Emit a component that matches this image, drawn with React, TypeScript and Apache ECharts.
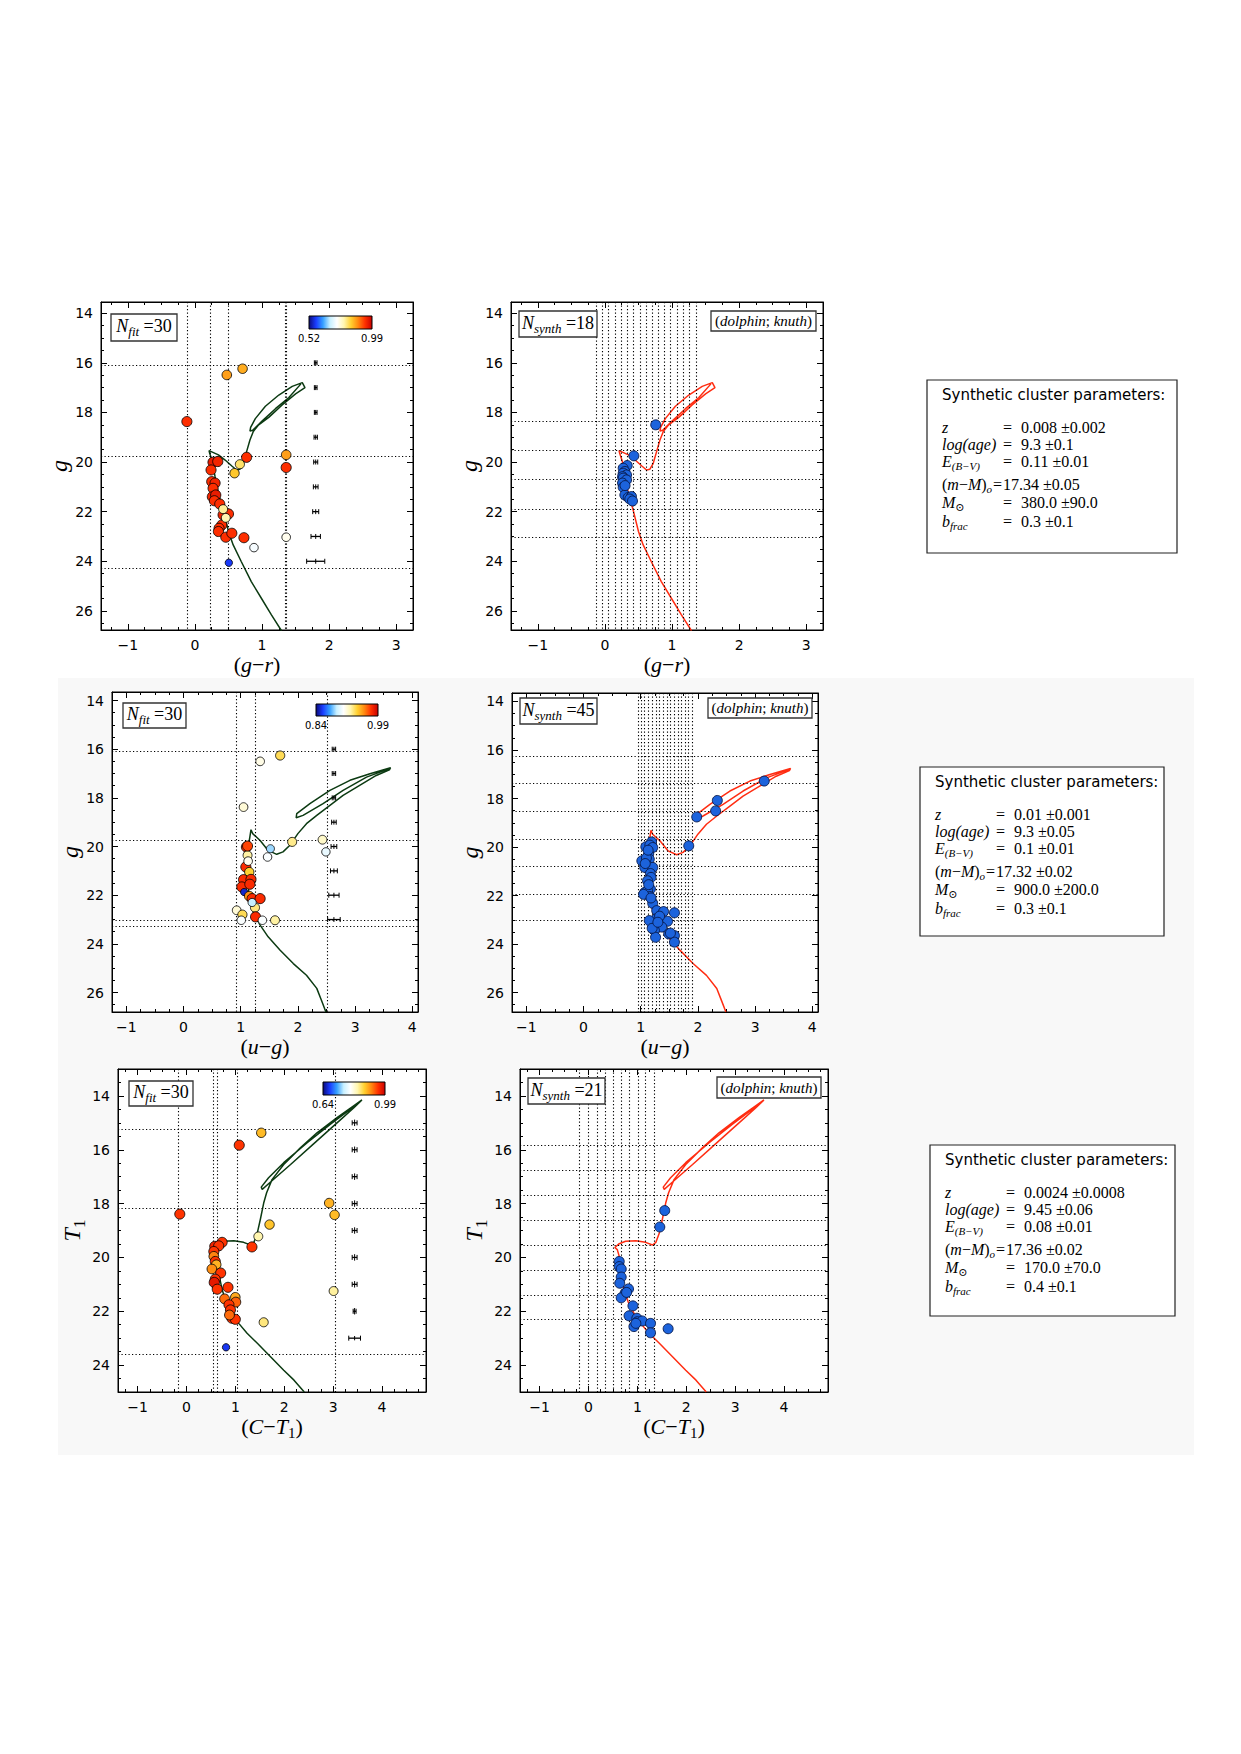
import React, { useEffect, useRef } from 'react';
import * as echarts from 'echarts';

const SANS = '"DejaVu Sans", sans-serif';
const SERIF = '"Liberation Serif", "DejaVu Serif", serif';

// colour scale for membership probabilities (low -> high)
const probColors = ['#0b0b7a', '#1a3cff', '#35a0ff', '#c8f0ff', '#ffffff', '#fff6b0', '#ffd030', '#ff8a10', '#ff3000', '#c80000'];

// ---------------- row 1 : g vs (g-r) ----------------
const isoGR = [
  [1.29, 26.8], [1.14, 26.16], [0.99, 25.49], [0.84, 24.82], [0.69, 24.01], [0.57, 23.34], [0.5, 22.8],
  [0.42, 21.93], [0.35, 21.26], [0.3, 20.59], [0.26, 19.98], [0.22, 19.65], [0.21, 19.54], [0.35, 19.71],
  [0.45, 19.92], [0.55, 20.16], [0.62, 20.32], [0.67, 20.29], [0.72, 20.05], [0.77, 19.58], [0.82, 19.11],
  [0.87, 18.77], [0.95, 18.5], [1.1, 18.2], [1.3, 17.7], [1.5, 17.25], [1.64, 17.0], [1.6, 16.8],
  [1.45, 16.95], [1.25, 17.3], [1.05, 17.75], [0.9, 18.25], [0.83, 18.6], [0.82, 18.75], [0.86, 18.72],
  [1.0, 18.35], [1.2, 17.85], [1.4, 17.4], [1.58, 16.85],
];
// [colour, magnitude, membership probability]
const fitGR = [
  [-0.12, 18.37, 0.94], [0.475, 16.49, 0.87], [0.71, 16.24, 0.86], [0.77, 19.81, 0.94], [1.36, 19.71, 0.87],
  [1.36, 20.22, 0.94], [0.67, 20.09, 0.81], [0.59, 20.45, 0.84], [0.27, 20.01, 0.96], [0.34, 19.98, 0.95],
  [0.24, 20.32, 0.94], [0.25, 20.79, 0.94], [0.3, 20.85, 0.95], [0.27, 21.06, 0.94], [0.26, 21.4, 0.95],
  [0.31, 21.33, 0.96], [0.29, 21.56, 0.94], [0.37, 21.69, 0.94], [0.42, 22.13, 0.95], [0.5, 22.09, 0.94],
  [0.4, 22.54, 0.94], [0.36, 22.67, 0.94], [0.35, 22.8, 0.94], [0.46, 23.03, 0.94], [0.55, 22.87, 0.94],
  [0.73, 23.05, 0.94], [0.505, 24.06, 0.57], [0.88, 23.45, 0.72], [1.36, 23.03, 0.74], [0.42, 21.9, 0.79],
  [0.46, 22.25, 0.78],
];
// [colour, magnitude, colour error, magnitude error]
const errGR = [
  [1.8, 16, 0.02, 0.1], [1.8, 17, 0.02, 0.1], [1.8, 18, 0.02, 0.1], [1.8, 19, 0.025, 0.1],
  [1.8, 20, 0.03, 0.1], [1.8, 21, 0.035, 0.1], [1.8, 22, 0.045, 0.1], [1.8, 23, 0.07, 0.1],
  [1.8, 24, 0.135, 0.1],
];
const fitGRVLines = [-0.12, 0.23, 0.5, 1.355, 1.365];
const fitGRHLines = [16.1, 19.75, 24.3];
const synGR = [
  [0.757, 18.5], [0.431, 19.75], [0.332, 20.14], [0.272, 20.25], [0.297, 20.38], [0.272, 20.45],
  [0.322, 20.52], [0.262, 20.59], [0.272, 20.65], [0.322, 20.72], [0.262, 20.85], [0.272, 21.02],
  [0.297, 21.33], [0.347, 21.43], [0.396, 21.39], [0.371, 21.49], [0.411, 21.57], [0.3, 20.95],
];
const synGRVLines = [-0.13, -0.04, 0.05, 0.15, 0.24, 0.33, 0.42, 0.52, 0.61, 0.7, 0.8, 0.89, 0.98, 1.08, 1.17, 1.26, 1.36];
const synGRHLines = [18.34, 19.54, 20.69, 21.89, 23.05];
const probRangeGR = [0.52, 0.99];
const paramsGR = ['0.008 \u00b10.002', '9.3 \u00b10.1', '0.11 \u00b10.01', '17.34 \u00b10.05', '380.0 \u00b190.0', '0.3 \u00b10.1'];
const nSynthGR = 18;

// ---------------- row 2 : g vs (u-g) ----------------
const isoUG = [
  [2.49, 26.8], [2.41, 26.31], [2.33, 25.83], [2.15, 25.29], [1.92, 24.81], [1.69, 24.26], [1.48, 23.71],
  [1.34, 23.23], [1.23, 22.76], [1.16, 22.21], [1.13, 21.66], [1.1, 21.11], [1.1, 20.57], [1.13, 20.02],
  [1.16, 19.61], [1.18, 19.31], [1.21, 19.47], [1.34, 19.75], [1.48, 20.16], [1.63, 20.32], [1.74, 20.22],
  [1.86, 19.95], [2.0, 19.47], [2.15, 19.06], [2.33, 18.72], [2.56, 18.31], [2.79, 17.9], [3.08, 17.49],
  [3.37, 17.08], [3.6, 16.85], [3.62, 16.76], [3.26, 17.01], [2.91, 17.28], [2.56, 17.69], [2.21, 18.24],
  [1.98, 18.65], [1.97, 18.82], [2.09, 18.72], [2.44, 18.24], [2.79, 17.69], [3.2, 17.15], [3.6, 16.8],
];
const fitUG = [
  [1.69, 16.26, 0.935], [1.34, 16.5, 0.912], [1.05, 18.38, 0.915], [1.9, 19.81, 0.928], [2.43, 19.72, 0.918],
  [2.49, 20.22, 0.9], [1.52, 20.09, 0.885], [1.47, 20.43, 0.905], [1.1, 20.02, 0.975], [1.12, 20.36, 0.925],
  [1.09, 20.84, 0.975], [1.15, 21.05, 0.94], [1.05, 21.36, 0.975], [1.18, 21.35, 0.975], [1.02, 21.66, 0.975],
  [1.16, 21.55, 0.975], [1.06, 21.87, 0.85], [1.15, 22.04, 0.955], [1.2, 22.14, 0.975], [1.34, 22.14, 0.975],
  [1.25, 22.51, 0.93], [1.26, 22.89, 0.975], [0.93, 22.62, 0.915], [1.03, 22.8, 0.935], [1.01, 23.03, 0.905],
  [1.38, 23.03, 0.905], [1.6, 23.03, 0.925], [1.13, 20.6, 0.91], [1.2, 22.3, 0.89], [1.12, 19.98, 0.97],
];
const errUG = [
  [2.63, 16, 0.03, 0.1], [2.63, 17, 0.03, 0.1], [2.63, 18, 0.03, 0.1], [2.63, 19, 0.04, 0.1],
  [2.63, 20, 0.05, 0.1], [2.63, 21, 0.06, 0.1], [2.63, 22, 0.09, 0.1], [2.63, 23, 0.11, 0.1],
];
const fitUGVLines = [0.93, 1.26, 2.51];
const fitUGHLines = [16.08, 19.75, 23.03, 23.27];
const synUG = [
  [3.16, 17.28], [2.34, 18.08], [2.31, 18.51], [1.98, 18.76], [1.84, 19.95],
  [1.19, 19.79], [1.09, 19.99], [1.16, 19.92], [1.21, 20.02], [1.14, 20.29], [1.15, 20.5], [1.02, 20.57],
  [1.12, 20.77], [1.07, 20.84], [1.21, 20.84], [1.17, 21.09], [1.18, 21.25], [1.12, 21.39], [1.17, 21.73],
  [1.07, 21.87], [1.12, 21.8], [1.16, 22.04], [1.21, 22.32], [1.28, 22.62], [1.4, 22.66], [1.59, 22.71],
  [1.27, 22.96], [1.15, 23.03], [1.47, 23.06], [1.37, 23.3], [1.24, 23.44], [1.49, 23.58], [1.59, 23.65],
  [1.26, 23.72], [1.59, 23.92], [1.1, 20.45], [1.14, 21.55], [1.05, 21.95], [1.18, 22.1], [1.33, 22.85],
  [1.52, 23.55], [1.2, 23.35], [1.3, 23.1], [1.13, 20.13], [1.08, 20.68],
];
const synUGVLines = [0.95, 1.01, 1.07, 1.14, 1.2, 1.27, 1.33, 1.39, 1.46, 1.52, 1.59, 1.65, 1.71, 1.78, 1.84, 1.91];
const synUGHLines = [16.26, 17.38, 18.51, 19.66, 20.79, 21.93, 23.03];
const probRangeUG = [0.84, 0.99];
const paramsUG = ['0.01 \u00b10.001', '9.3 \u00b10.05', '0.1 \u00b10.01', '17.32 \u00b10.02', '900.0 \u00b1200.0', '0.3 \u00b10.1'];
const nSynthUG = 45;

// ---------------- row 3 : T1 vs (C-T1) ----------------
const isoCT = [
  [2.41, 25.0], [2.2, 24.56], [1.99, 24.19], [1.72, 23.69], [1.45, 23.19], [1.24, 22.82], [1.07, 22.45],
  [0.93, 22.07], [0.81, 21.64], [0.73, 21.2], [0.68, 20.77], [0.65, 20.34], [0.63, 19.96], [0.59, 19.71],
  [0.54, 19.63], [0.63, 19.49], [0.76, 19.4], [0.97, 19.38], [1.17, 19.44], [1.31, 19.54], [1.38, 19.44],
  [1.45, 19.09], [1.51, 18.6], [1.58, 17.98], [1.64, 17.6], [1.75, 17.11], [1.99, 16.55], [2.33, 15.93],
  [2.67, 15.37], [3.08, 14.81], [3.42, 14.37], [3.59, 14.15], [3.35, 14.5], [2.94, 15.06], [2.47, 15.74],
  [1.99, 16.48], [1.68, 17.04], [1.53, 17.39], [1.55, 17.47], [1.72, 17.2], [2.13, 16.55], [2.6, 15.78],
  [3.08, 15.0], [3.42, 14.45], [3.59, 14.15],
];
const fitCT = [
  [1.08, 15.83, 0.95], [1.53, 15.37, 0.885], [-0.136, 18.39, 0.95], [2.92, 17.98, 0.89], [3.03, 18.42, 0.885],
  [1.7, 18.78, 0.88], [1.47, 19.22, 0.835], [1.34, 19.61, 0.95], [3.01, 21.25, 0.84], [1.58, 22.41, 0.85],
  [0.81, 23.34, 0.675], [0.73, 19.44, 0.95], [0.58, 19.59, 0.96], [0.66, 19.57, 0.95], [0.56, 19.78, 0.95],
  [0.56, 19.96, 0.915], [0.59, 20.15, 0.95], [0.61, 20.27, 0.89], [0.52, 20.43, 0.91], [0.7, 20.58, 0.95],
  [0.59, 20.81, 0.95], [0.57, 20.93, 0.97], [0.63, 21.18, 0.95], [0.85, 21.11, 0.95], [0.78, 21.54, 0.925],
  [1.0, 21.48, 0.895], [1.01, 21.66, 0.93], [0.87, 21.76, 0.95], [0.9, 21.95, 0.95], [0.93, 22.26, 0.95],
  [1.0, 22.3, 0.95], [0.88, 22.14, 0.925],
];
const errCT = [
  [3.44, 15, 0.05, 0.12], [3.44, 16, 0.05, 0.12], [3.44, 17, 0.05, 0.12], [3.44, 18, 0.05, 0.12],
  [3.44, 19, 0.05, 0.12], [3.44, 20, 0.05, 0.12], [3.44, 21, 0.05, 0.12], [3.44, 22, 0.03, 0.12],
  [3.44, 23, 0.12, 0.08],
];
const fitCTVLines = [-0.157, 0.545, 0.627, 1.036, 3.05];
const fitCTHLines = [15.22, 18.17, 23.59];
const synCT = [
  [1.56, 18.26], [1.46, 18.87], [1.63, 22.65], [0.63, 20.15], [0.63, 20.34], [0.67, 20.43], [0.67, 20.73],
  [0.64, 20.96], [0.82, 21.17], [0.75, 21.33], [0.67, 21.5], [0.91, 21.8], [0.83, 22.17], [0.99, 22.26],
  [1.0, 22.39], [1.1, 22.36], [1.27, 22.45], [0.93, 22.57], [1.27, 22.8], [0.97, 22.45], [0.78, 21.3],
];
const synCTVLines = [-0.18, 0, 0.17, 0.34, 0.5, 0.67, 0.84, 1.01, 1.17, 1.34];
const synCTHLines = [15.84, 16.76, 17.68, 18.62, 19.53, 20.46, 21.39, 22.3];
const probRangeCT = [0.64, 0.99];
const paramsCT = ['0.0024 \u00b10.0008', '9.45 \u00b10.06', '0.08 \u00b10.01', '17.36 \u00b10.02', '170.0 \u00b170.0', '0.4 \u00b10.1'];
const nSynthCT = 21;

const nFit = 30;

// ---------------- text helpers ----------------
// main glyphs are top-aligned in a short line box, subscripts bottom-aligned,
// which drops the subscript just below the baseline
const mathRich = (size: number) => {
  const lh = Math.round(size * 1.15);
  const sub = Math.round(size * 0.7);
  return {
    i: { fontFamily: SERIF, fontStyle: 'italic', fontSize: size, lineHeight: lh, verticalAlign: 'top', fill: '#000', color: '#000' },
    r: { fontFamily: SERIF, fontSize: size, lineHeight: lh, verticalAlign: 'top', fill: '#000', color: '#000' },
    s: { fontFamily: SERIF, fontStyle: 'italic', fontSize: sub, lineHeight: sub, verticalAlign: 'bottom', fill: '#000', color: '#000' },
    sr: { fontFamily: SERIF, fontSize: sub, lineHeight: sub, verticalAlign: 'bottom', fill: '#000', color: '#000' },
  };
};

const nameGR = '{r|(}{i|g}{r|\u2212}{i|r}{r|)}';
const nameUG = '{r|(}{i|u}{r|\u2212}{i|g}{r|)}';
const nameCT = '{r|(}{i|C}{r|\u2212}{i|T}{sr|1}{r|)}';
const nameG = '{i|g}';
const nameT1 = '{i|T}{sr|1}';

const fmtTick = (step: number) => (v: number) => {
  const r = Math.round(v);
  if (Math.abs(v - r) > 1e-6 || r % step !== 0) return '';
  return r < 0 ? '\u2212' + Math.abs(r) : String(r);
};

type Panel = {
  box: { left: number; top: number; width: number; height: number };
  xr: number[]; yr: number[]; xName: string; yName: string; yGap: number;
  fit: boolean; iso: number[][]; pts: number[][]; err?: number[][];
  vLines: number[]; hLines: number[]; prob?: number[];
};

const panels: Panel[] = [
  { box: { left: 101, top: 302, width: 312, height: 328 }, xr: [-1.4, 3.25], yr: [13.55, 26.77], xName: nameGR, yName: nameG, yGap: 19,
    fit: true, iso: isoGR, pts: fitGR, err: errGR, vLines: fitGRVLines, hLines: fitGRHLines, prob: probRangeGR },
  { box: { left: 511, top: 302, width: 312, height: 328 }, xr: [-1.4, 3.25], yr: [13.55, 26.77], xName: nameGR, yName: nameG, yGap: 17,
    fit: false, iso: isoGR, pts: synGR, vLines: synGRVLines, hLines: synGRHLines },
  { box: { left: 112, top: 692, width: 306, height: 320 }, xr: [-1.25, 4.1], yr: [13.65, 26.8], xName: nameUG, yName: nameG, yGap: 19,
    fit: true, iso: isoUG, pts: fitUG, err: errUG, vLines: fitUGVLines, hLines: fitUGHLines, prob: probRangeUG },
  { box: { left: 512, top: 693, width: 306, height: 319 }, xr: [-1.25, 4.1], yr: [13.65, 26.8], xName: nameUG, yName: nameG, yGap: 16,
    fit: false, iso: isoUG, pts: synUG, vLines: synUGVLines, hLines: synUGHLines },
  { box: { left: 118, top: 1069, width: 308, height: 323 }, xr: [-1.4, 4.9], yr: [13, 25], xName: nameCT, yName: nameT1, yGap: 22,
    fit: true, iso: isoCT, pts: fitCT, err: errCT, vLines: fitCTVLines, hLines: fitCTHLines, prob: probRangeCT },
  { box: { left: 520, top: 1069, width: 308, height: 323 }, xr: [-1.4, 4.9], yr: [13, 25], xName: nameCT, yName: nameT1, yGap: 19,
    fit: false, iso: isoCT, pts: synCT, vLines: synCTVLines, hLines: synCTHLines },
];

// in-plot labels
const fitBoxes = [
  { x: 111, y: 314, w: 66, h: 27 }, { x: 123, y: 703, w: 63, h: 25 }, { x: 129, y: 1081, w: 64, h: 25 },
];
const synBoxes = [
  { x: 519, y: 311, w: 78, h: 26, n: nSynthGR }, { x: 520, y: 698, w: 77, h: 26, n: nSynthUG }, { x: 528, y: 1078, w: 77, h: 26, n: nSynthCT },
];
const methodBoxes = [
  { x: 711, y: 311, w: 105, h: 20 }, { x: 708, y: 698, w: 104, h: 20 }, { x: 717, y: 1077, w: 104, h: 21 },
];
const colorBars = [
  { x: 309, y: 316, w: 63, h: 13, labY: 338, range: probRangeGR },
  { x: 316, y: 704, w: 62, h: 12, labY: 725, range: probRangeUG },
  { x: 323, y: 1082, w: 62, h: 13, labY: 1104, range: probRangeCT },
];
const paramBoxes = [
  { x: 927, y: 380, w: 250, h: 173, vals: paramsGR },
  { x: 920, y: 767, w: 244, h: 169, vals: paramsUG },
  { x: 930, y: 1145, w: 245, h: 171, vals: paramsCT },
];
const paramNames = [
  '{i|z}',
  '{i|log(age)}',
  '{i|E}{s|(B\u2212V)}',
  '{r|(}{i|m}{r|\u2212}{i|M}{r|)}{s|o}',
  '{i|M}{sr|\u2299}',
  '{i|b}{s|frac}',
];
const paramRowOffsets = [48, 65, 82, 105, 123, 142];

function errorBarItem(params: any, api: any) {
  const x = api.value(0), y = api.value(1), ex = api.value(2), ey = api.value(3);
  const c = api.coord([x, y]);
  const l = api.coord([x - ex, y]);
  const r = api.coord([x + ex, y]);
  const t = api.coord([x, y - ey]);
  const b = api.coord([x, y + ey]);
  const cap = 2.5;
  const st = { stroke: '#000', lineWidth: 1 };
  return {
    type: 'group',
    children: [
      { type: 'line', shape: { x1: l[0], y1: c[1], x2: r[0], y2: c[1] }, style: { ...st, lineWidth: 1.3 } },
      { type: 'line', shape: { x1: c[0], y1: t[1], x2: c[0], y2: b[1] }, style: st },
      { type: 'line', shape: { x1: l[0], y1: c[1] - cap, x2: l[0], y2: c[1] + cap }, style: st },
      { type: 'line', shape: { x1: r[0], y1: c[1] - cap, x2: r[0], y2: c[1] + cap }, style: st },
    ],
  };
}

function buildOption() {
  const grid: any[] = [];
  const xAxis: any[] = [];
  const yAxis: any[] = [];
  const series: any[] = [];
  const visualMap: any[] = [];
  const graphic: any[] = [];
  const axisLineStyle = { color: '#000', width: 1 };

  panels.forEach((p, i) => {
    grid.push({ ...p.box, show: true, backgroundColor: '#fff', borderColor: '#000', borderWidth: 1 });
    const xi = xAxis.length;
    ['bottom', 'top'].forEach((pos) => {
      xAxis.push({
        type: 'value', gridIndex: i, position: pos, min: p.xr[0], max: p.xr[1], splitNumber: 5,
        axisLine: { show: true, onZero: false, lineStyle: axisLineStyle },
        axisTick: { show: true, inside: true, length: 6, lineStyle: axisLineStyle },
        minorTick: { show: true, splitNumber: 4, length: 3, lineStyle: axisLineStyle },
        splitLine: { show: false },
        axisLabel: pos === 'bottom'
          ? { show: true, margin: 8, color: '#000', fontFamily: SANS, fontSize: 14, formatter: fmtTick(1) }
          : { show: false },
        name: pos === 'bottom' ? p.xName : '',
        nameLocation: 'middle', nameGap: 23,
        nameTextStyle: { rich: mathRich(22) },
      });
    });
    const yi = yAxis.length;
    ['left', 'right'].forEach((pos) => {
      yAxis.push({
        type: 'value', gridIndex: i, position: pos, inverse: true, min: p.yr[0], max: p.yr[1], splitNumber: 6,
        axisLine: { show: true, onZero: false, lineStyle: axisLineStyle },
        axisTick: { show: true, inside: true, length: 6, lineStyle: axisLineStyle },
        minorTick: { show: true, splitNumber: 4, length: 3, lineStyle: axisLineStyle },
        splitLine: { show: false },
        axisLabel: pos === 'left'
          ? { show: true, margin: 8, color: '#000', fontFamily: SANS, fontSize: 14, formatter: fmtTick(2) }
          : { show: false },
        name: pos === 'left' ? p.yName : '',
        nameLocation: 'middle', nameGap: p.yGap,
        nameTextStyle: { rich: mathRich(24) },
      });
    });

    series.push({
      type: 'line', xAxisIndex: xi, yAxisIndex: yi, data: p.iso, showSymbol: false, symbol: 'none',
      clip: true, silent: true, z: 2,
      lineStyle: { color: p.fit ? '#0c3a12' : '#ff2d12', width: 1.5 },
      markLine: {
        silent: true, symbol: ['none', 'none'], label: { show: false }, animation: false,
        lineStyle: { color: '#000', width: 1.1, type: [1.2, 2.3] },
        emphasis: { disabled: true },
        data: [...p.vLines.map((v) => ({ xAxis: v })), ...p.hLines.map((h) => ({ yAxis: h }))],
      },
    });

    if (p.err) {
      series.push({
        type: 'custom', xAxisIndex: xi, yAxisIndex: yi, data: p.err, renderItem: errorBarItem,
        encode: { x: 0, y: 1 }, silent: true, z: 3,
      });
    }

    const si = series.length;
    if (p.fit && p.prob) {
      const [lo, hi] = p.prob;
      series.push({
        type: 'scatter', xAxisIndex: xi, yAxisIndex: yi, data: p.pts, z: 5, silent: true,
        symbolSize: (v: number[]) => 7 + 3.5 * Math.max(0, Math.min(1, (v[2] - lo) / (hi - lo))),
        itemStyle: { borderColor: '#000', borderWidth: 0.8, opacity: 1 },
      });
      visualMap.push({
        type: 'continuous', show: false, seriesIndex: si, dimension: 2, min: lo, max: hi,
        inRange: { color: probColors },
      });
    } else {
      series.push({
        type: 'scatter', xAxisIndex: xi, yAxisIndex: yi, data: p.pts, z: 5, silent: true, symbolSize: 10,
        itemStyle: { color: '#1c63dc', borderColor: '#07184a', borderWidth: 0.9, opacity: 1 },
      });
    }
  });

  // N_fit labels
  fitBoxes.forEach((b) => {
    graphic.push({ type: 'rect', shape: { x: b.x, y: b.y, width: b.w, height: b.h }, style: { fill: '#fff', stroke: '#333', lineWidth: 1.3 }, z: 10 });
    graphic.push({
      type: 'text', x: b.x + b.w / 2, y: b.y + b.h / 2, z: 11,
      style: { text: `{i|N}{s|fit}{r| =${nFit}}`, rich: mathRich(18), align: 'center', verticalAlign: 'middle' },
    });
  });
  // N_synth labels
  synBoxes.forEach((b) => {
    graphic.push({ type: 'rect', shape: { x: b.x, y: b.y, width: b.w, height: b.h }, style: { fill: '#fff', stroke: '#333', lineWidth: 1.3 }, z: 10 });
    graphic.push({
      type: 'text', x: b.x + b.w / 2, y: b.y + b.h / 2, z: 11,
      style: { text: `{i|N}{s|synth}{r| =${b.n}}`, rich: mathRich(18), align: 'center', verticalAlign: 'middle' },
    });
  });
  // binning method labels
  methodBoxes.forEach((b) => {
    graphic.push({ type: 'rect', shape: { x: b.x, y: b.y, width: b.w, height: b.h }, style: { fill: '#fff', stroke: '#333', lineWidth: 1.3 }, z: 10 });
    graphic.push({
      type: 'text', x: b.x + b.w / 2, y: b.y + b.h / 2 + 1, z: 11,
      style: { text: '{r|(}{i|dolphin}{r|; }{i|knuth}{r|)}', rich: mathRich(15), align: 'center', verticalAlign: 'middle' },
    });
  });
  // colour bars
  colorBars.forEach((c) => {
    graphic.push({
      type: 'rect', shape: { x: c.x, y: c.y, width: c.w, height: c.h }, z: 10,
      style: {
        fill: {
          type: 'linear', x: 0, y: 0, x2: 1, y2: 0,
          colorStops: probColors.map((col, k) => ({ offset: k / (probColors.length - 1), color: col })),
        },
        stroke: '#000', lineWidth: 1,
      },
    });
    graphic.push({ type: 'text', x: c.x, y: c.labY, z: 11, style: { text: c.range[0].toFixed(2), font: `10px ${SANS}`, fill: '#000', align: 'center', verticalAlign: 'middle' } });
    graphic.push({ type: 'text', x: c.x + c.w, y: c.labY, z: 11, style: { text: c.range[1].toFixed(2), font: `10px ${SANS}`, fill: '#000', align: 'center', verticalAlign: 'middle' } });
  });
  // parameter boxes
  paramBoxes.forEach((b) => {
    graphic.push({ type: 'rect', shape: { x: b.x, y: b.y, width: b.w, height: b.h }, style: { fill: '#fff', stroke: '#222', lineWidth: 1.2 }, z: 10 });
    graphic.push({
      type: 'text', x: b.x + 15, y: b.y + 15, z: 11,
      style: { text: 'Synthetic cluster parameters:', font: `15px ${SANS}`, fill: '#000', align: 'left', verticalAlign: 'middle' },
    });
    paramNames.forEach((nm, k) => {
      const y = b.y + paramRowOffsets[k];
      graphic.push({ type: 'text', x: b.x + 15, y, z: 11, style: { text: nm, rich: mathRich(16), align: 'left', verticalAlign: 'middle' } });
      const eqX = k === 3 ? b.x + 66 : b.x + 76;
      const valX = k === 3 ? b.x + 76 : b.x + 94;
      graphic.push({ type: 'text', x: eqX, y, z: 11, style: { text: '{r|=}', rich: mathRich(16), align: 'left', verticalAlign: 'middle' } });
      graphic.push({ type: 'text', x: valX, y, z: 11, style: { text: `{r|${b.vals[k]}}`, rich: mathRich(16), align: 'left', verticalAlign: 'middle' } });
    });
  });

  return {
    animation: false,
    textStyle: { fontFamily: SANS },
    grid, xAxis, yAxis, series, visualMap, graphic,
  };
}

export default function App() {
  const ref = useRef<HTMLDivElement>(null);
  useEffect(() => {
    if (!ref.current) return;
    const chart = echarts.init(ref.current, null, { renderer: 'svg' });
    chart.setOption(buildOption() as any);
    return () => chart.dispose();
  }, []);
  return (
    <div style={{ position: 'absolute', left: 0, top: 0, width: 1241, height: 1754, background: '#fff' }}>
      <div style={{ position: 'absolute', left: 58, top: 678, width: 1136, height: 777, background: '#f8f8f8' }} />
      <div ref={ref} style={{ position: 'absolute', left: 0, top: 0, width: 1241, height: 1754 }} />
    </div>
  );
}
